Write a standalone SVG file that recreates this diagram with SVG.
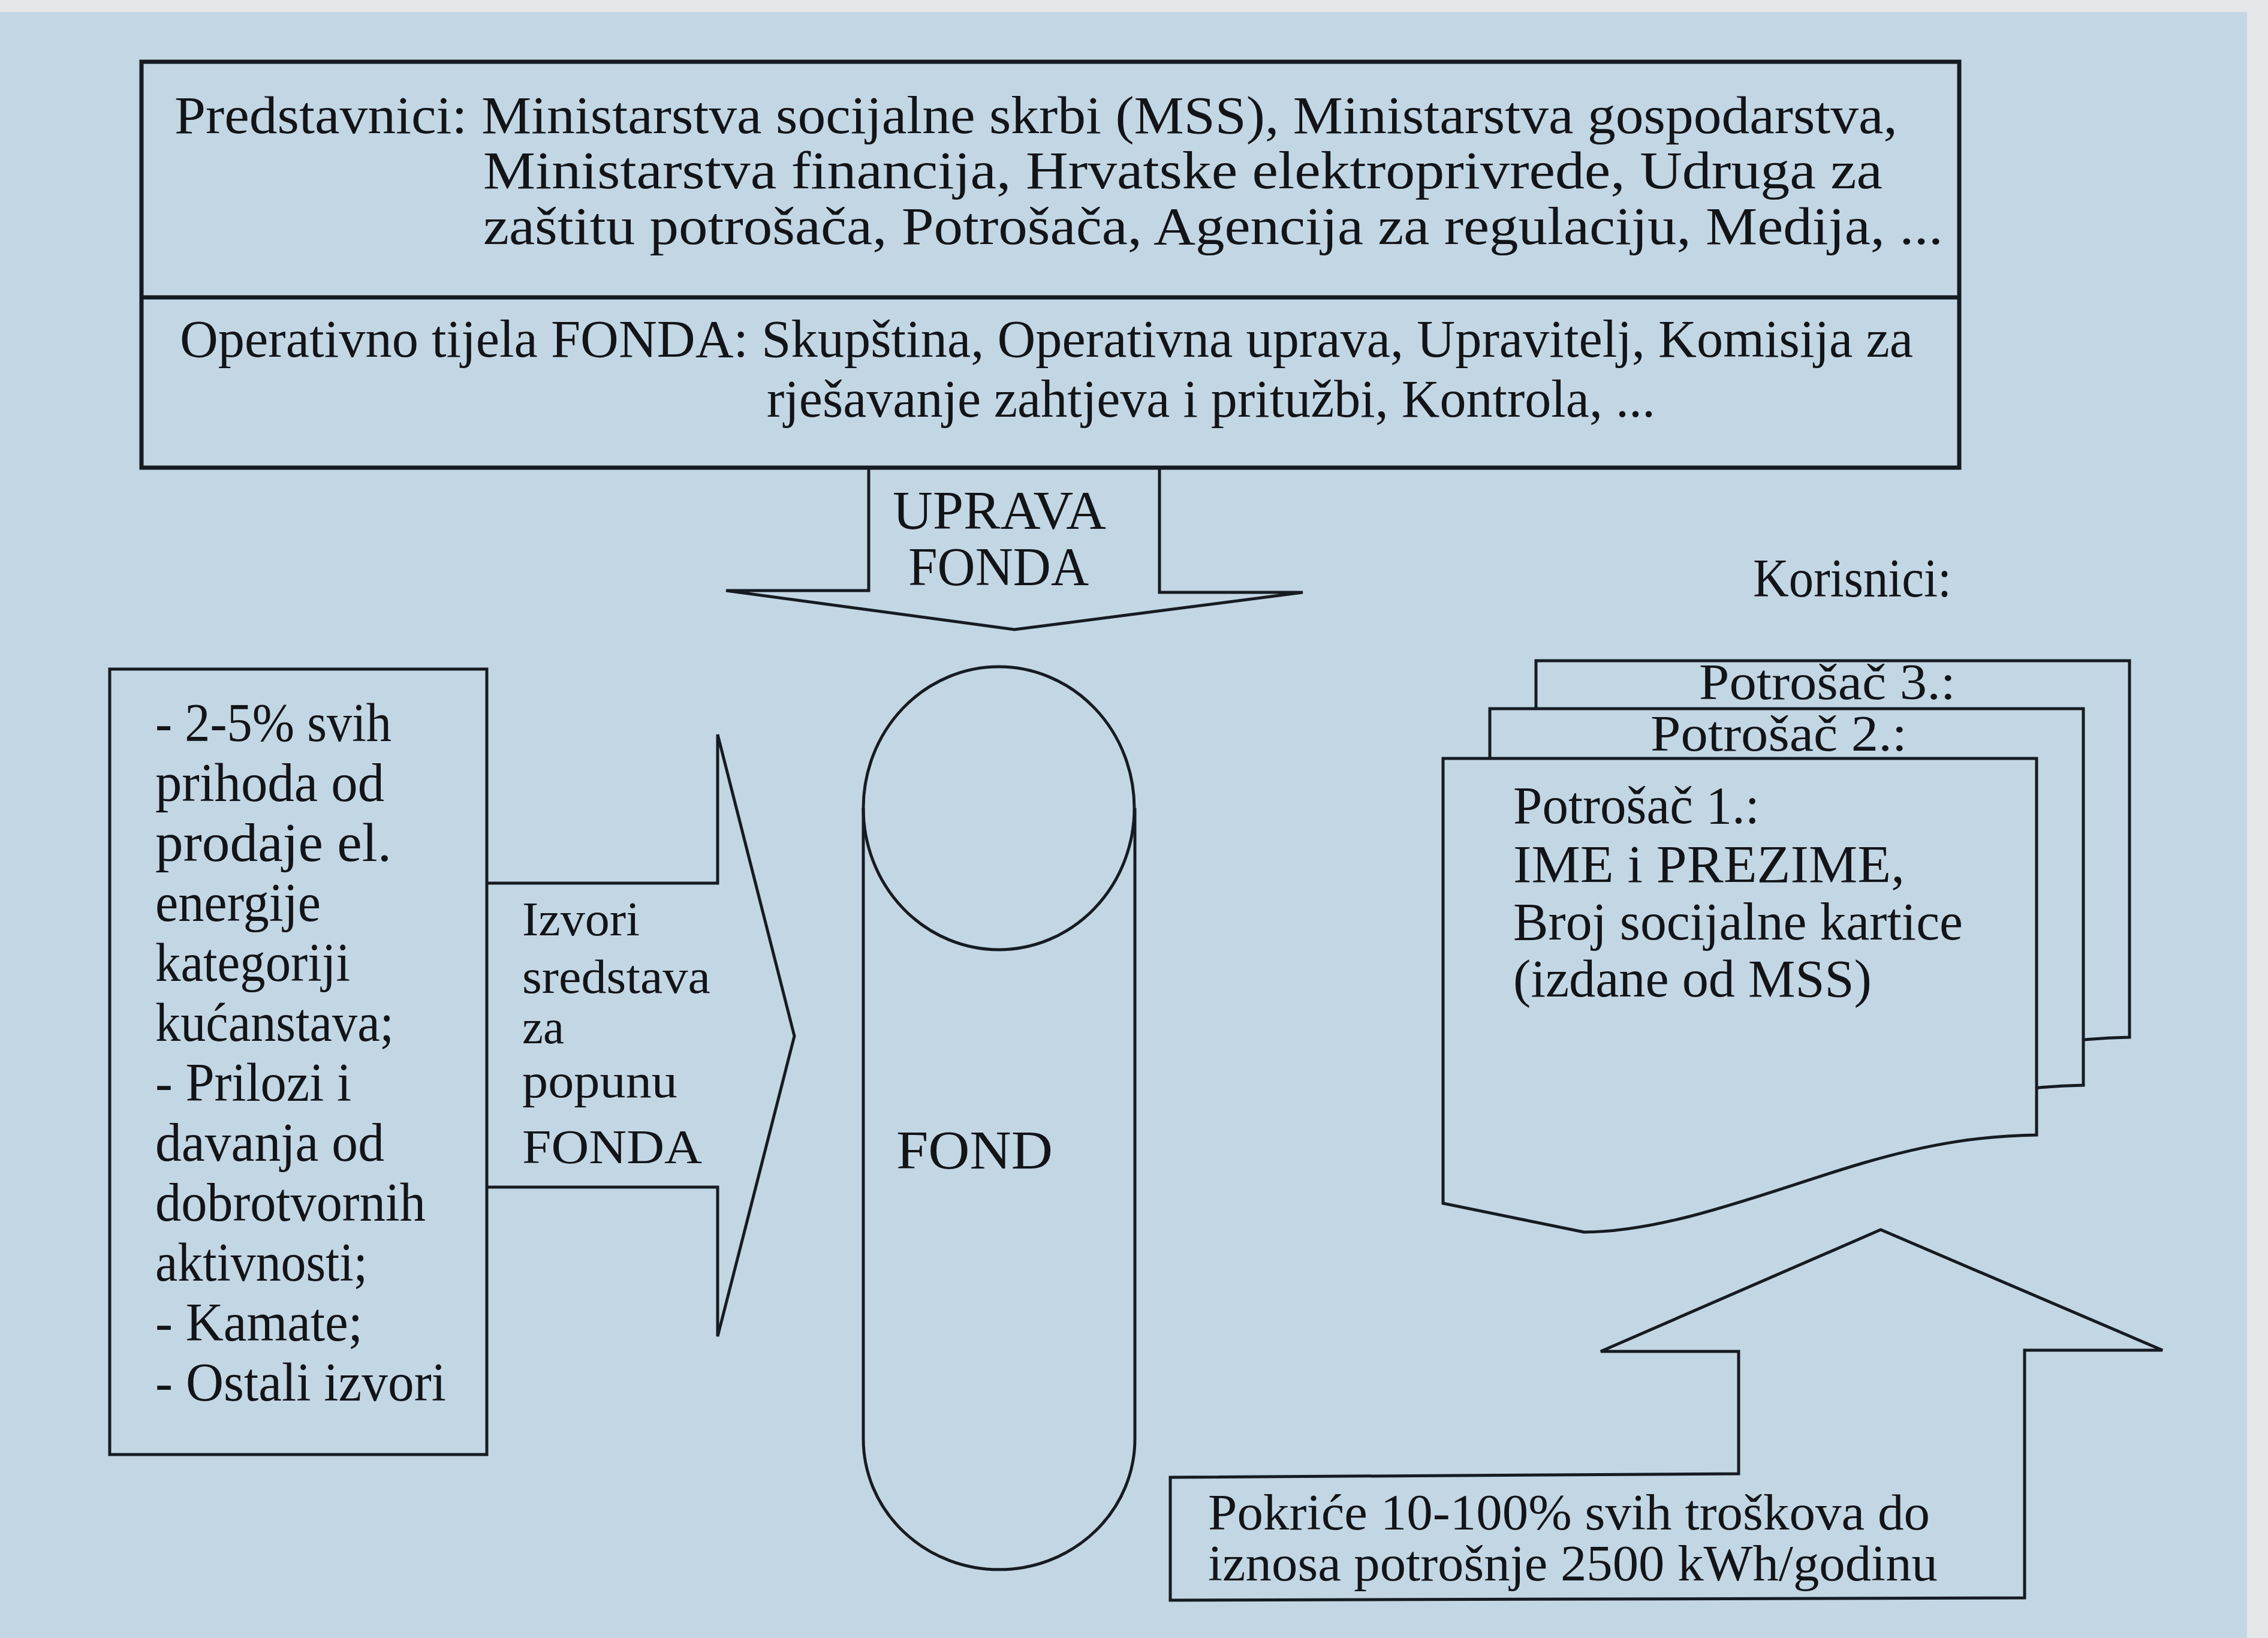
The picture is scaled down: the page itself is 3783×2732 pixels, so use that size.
<svg xmlns="http://www.w3.org/2000/svg" width="3783" height="2732" viewBox="0 0 3783 2732">
<style>
 .t { font-family: "Liberation Serif", "DejaVu Serif", serif; fill: #121418; }
 .f92 { font-size: 92px; }
 .f90 { font-size: 90px; }
 .f88 { font-size: 88px; }
 .f84 { font-size: 84px; }
 .f80 { font-size: 80px; }
 .ln { fill: none; stroke: #161b22; stroke-width: 5; stroke-linejoin: miter; }
 .thick { stroke-width: 7; }
 .card { fill: #c3d6e4; stroke: #161b22; stroke-width: 5; }
</style>
<defs>
 <path id="cardShape" d="M0,0 H990 V628 C900,630 820,640 700,675 C556,717 380,790 235,790 L0,742 Z"/>
</defs>
<rect x="0" y="0" width="3783" height="2732" fill="#c3d6e4"/>
<rect x="0" y="0" width="3783" height="20" fill="#e4e7e8"/>
<rect x="3748" y="0" width="35" height="2732" fill="#e4e7e8"/>

<g id="upper-box">
 <rect class="ln thick" x="236" y="103" width="3032" height="677"/>
 <line class="ln thick" x1="236" y1="496" x2="3268" y2="496"/>
 <text class="t f88" x="291" y="222" textLength="2874" lengthAdjust="spacingAndGlyphs">Predstavnici: Ministarstva socijalne skrbi (MSS), Ministarstva gospodarstva,</text>
 <text class="t f88" x="806" y="314" textLength="2334" lengthAdjust="spacingAndGlyphs">Ministarstva financija, Hrvatske elektroprivrede, Udruga za</text>
 <text class="t f88" x="806" y="407" textLength="2435" lengthAdjust="spacingAndGlyphs">zaštitu potrošača, Potrošača, Agencija za regulaciju, Medija, ...</text>
 <text class="t f88" x="300" y="595" textLength="2891" lengthAdjust="spacingAndGlyphs">Operativno tijela FONDA: Skupština, Operativna uprava, Upravitelj, Komisija za</text>
 <text class="t f88" x="1279" y="695" textLength="1482" lengthAdjust="spacingAndGlyphs">rješavanje zahtjeva i pritužbi, Kontrola, ...</text>
</g>

<g id="fond">
 <ellipse class="ln" cx="1666" cy="1348" rx="226" ry="236"/>
 <path class="ln" d="M1440,1348 V2400 A226.5,218 0 0 0 1893,2400 V1348"/>
 <text class="t f92" x="1495" y="1949" textLength="261" lengthAdjust="spacingAndGlyphs">FOND</text>
</g>

<g id="izvori-box">
 <rect class="ln" x="183" y="1116" width="629" height="1310"/>
 <text class="t f90" x="259" y="1236" textLength="394" lengthAdjust="spacingAndGlyphs">- 2-5% svih</text>
 <text class="t f90" x="259" y="1336" textLength="382" lengthAdjust="spacingAndGlyphs">prihoda od</text>
 <text class="t f90" x="259" y="1436" textLength="394" lengthAdjust="spacingAndGlyphs">prodaje  el.</text>
 <text class="t f90" x="259" y="1536" textLength="276" lengthAdjust="spacingAndGlyphs">energije</text>
 <text class="t f90" x="259" y="1636" textLength="325" lengthAdjust="spacingAndGlyphs">kategoriji</text>
 <text class="t f90" x="259" y="1736" textLength="398" lengthAdjust="spacingAndGlyphs">kućanstava;</text>
 <text class="t f90" x="259" y="1836" textLength="327" lengthAdjust="spacingAndGlyphs">- Prilozi i</text>
 <text class="t f90" x="259" y="1936" textLength="382" lengthAdjust="spacingAndGlyphs">davanja od</text>
 <text class="t f90" x="259" y="2036" textLength="451" lengthAdjust="spacingAndGlyphs">dobrotvornih</text>
 <text class="t f90" x="259" y="2136" textLength="354" lengthAdjust="spacingAndGlyphs">aktivnosti;</text>
 <text class="t f90" x="259" y="2236" textLength="346" lengthAdjust="spacingAndGlyphs">- Kamate;</text>
 <text class="t f90" x="259" y="2336" textLength="485" lengthAdjust="spacingAndGlyphs">- Ostali izvori</text>
</g>

<g id="korisnici">
 <text class="t f90" x="2924" y="995" textLength="331" lengthAdjust="spacingAndGlyphs">Korisnici:</text>
</g>

<g id="potrosac-3">
 <use href="#cardShape" class="card" transform="translate(2562,1102)"/>
 <text class="t f84" x="2834" y="1166" textLength="428" lengthAdjust="spacingAndGlyphs">Potrošač  3.:</text>
</g>
<g id="potrosac-2">
 <use href="#cardShape" class="card" transform="translate(2485,1182)"/>
 <text class="t f84" x="2753" y="1252" textLength="428" lengthAdjust="spacingAndGlyphs">Potrošač  2.:</text>
</g>
<g id="potrosac-1">
 <use href="#cardShape" class="card" transform="translate(2407,1265)"/>
 <text class="t f88" x="2524" y="1373" textLength="411" lengthAdjust="spacingAndGlyphs">Potrošač 1.:</text>
 <text class="t f88" x="2524" y="1471" textLength="653" lengthAdjust="spacingAndGlyphs">IME i PREZIME,</text>
 <text class="t f88" x="2524" y="1567" textLength="750" lengthAdjust="spacingAndGlyphs">Broj socijalne kartice</text>
 <text class="t f88" x="2524" y="1662" textLength="598" lengthAdjust="spacingAndGlyphs">(izdane od MSS)</text>
</g>

<g id="pokrice">
 <path class="ln" stroke-width="6" d="M1952,2464 L2900,2458 V2254 H2670 L3137,2051 L3607,2252 H3377 V2665 L1952,2669 Z"/>
 <text class="t f84" x="2015" y="2551" textLength="1204" lengthAdjust="spacingAndGlyphs">Pokriće 10-100% svih troškova do</text>
 <text class="t f84" x="2015" y="2636" textLength="1217" lengthAdjust="spacingAndGlyphs">iznosa potrošnje 2500 kWh/godinu</text>
</g>

<g id="connectors">
 <g id="uprava-fonda-arrow">
  <path class="ln" d="M1449,780 V985 H1211 L1692,1050 L2173,988 H1934 V780"/>
  <text class="t f90" x="1489" y="882" textLength="356" lengthAdjust="spacingAndGlyphs">UPRAVA</text>
  <text class="t f90" x="1515" y="976" textLength="301" lengthAdjust="spacingAndGlyphs">FONDA</text>
 </g>
 <g id="izvori-arrow">
  <path class="ln" d="M812,1473 H1197 V1225 L1325,1728 L1197,2229 V1980 H812"/>
  <text class="t f80" x="871" y="1560" textLength="196" lengthAdjust="spacingAndGlyphs">Izvori</text>
  <text class="t f80" x="871" y="1656" textLength="314" lengthAdjust="spacingAndGlyphs">sredstava</text>
  <text class="t f80" x="871" y="1740" textLength="70" lengthAdjust="spacingAndGlyphs">za</text>
  <text class="t f80" x="871" y="1830" textLength="259" lengthAdjust="spacingAndGlyphs">popunu</text>
  <text class="t f80" x="871" y="1940" textLength="300" lengthAdjust="spacingAndGlyphs">FONDA</text>
 </g>
</g>
</svg>
